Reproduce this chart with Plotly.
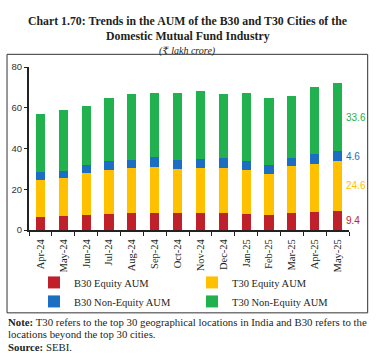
import plotly.graph_objects as go

months = ["Apr-24", "May-24", "Jun-24", "Jul-24", "Aug-24", "Sep-24", "Oct-24",
          "Nov-24", "Dec-24", "Jan-25", "Feb-25", "Mar-25", "Apr-25", "May-25"]
b30_equity = [6.4, 6.9, 7.5, 8.0, 8.2, 8.5, 8.2, 8.3, 8.3, 8.0, 7.5, 8.3, 9.0, 9.4]
t30_equity = [18.1, 18.6, 20.3, 21.4, 22.0, 22.5, 21.7, 21.9, 22.2, 21.4, 19.9, 22.9, 23.3, 24.6]
b30_non_equity = [4.1, 3.7, 4.0, 4.4, 4.2, 4.6, 4.4, 4.6, 4.6, 4.6, 4.4, 4.2, 4.8, 4.6]
t30_non_equity = [28.5, 29.7, 29.3, 31.2, 32.4, 31.7, 33.0, 33.3, 31.8, 33.3, 32.9, 30.4, 32.9, 33.6]
y_ticks = [0, 20, 40, 60, 80]

series = [
    ("B30 Equity AUM", b30_equity, "#C0202A"),
    ("T30 Equity AUM", t30_equity, "#FFC000"),
    ("B30 Non-Equity AUM", b30_non_equity, "#1B6EC2"),
    ("T30 Non-Equity AUM", t30_non_equity, "#21B24F"),
]

W, H = 376, 357
L, R, T, B = 29, 349.3, 66.7, 230.0  # plot area in px


def px_x(x):
    return (x - L) / (R - L)


def px_y(y):
    return (B - y) / (B - T)


SERIF = "Liberation Serif, DejaVu Serif, serif"
SANS = "Liberation Sans, Arial, sans-serif"
TXT = "#231f20"

fig = go.Figure()
for name, vals, col in series:
    fig.add_trace(go.Bar(x=months, y=vals, name=name, marker_color=col,
                         marker_line_width=0))

# value labels at the last bar (segment midpoints)
cum = 0
for name, vals, col in series:
    v = vals[-1]
    fig.add_annotation(x=months[-1], y=cum + v / 2, xref="x", yref="y",
                       text=f"{v:.1f}", showarrow=False, xanchor="left",
                       xshift=6, font=dict(family=SANS, size=10, color=col))
    cum += v

# titles
fig.add_annotation(x=px_x(188), y=px_y(12), xref="paper", yref="paper",
                   text="<b>Chart 1.70: Trends in the AUM of the B30 and T30 Cities of the</b>",
                   showarrow=False, font=dict(family=SERIF, size=11.8, color=TXT))
fig.add_annotation(x=px_x(188), y=px_y(27), xref="paper", yref="paper",
                   text="<b>Domestic Mutual Fund Industry</b>",
                   showarrow=False, font=dict(family=SERIF, size=11.8, color=TXT))
fig.add_annotation(x=px_x(188), y=px_y(43), xref="paper", yref="paper",
                   text="<i>(₹ lakh crore)</i>",
                   showarrow=False, font=dict(family=SERIF, size=10, color=TXT))

# notes
notes = [
    (322, "<b>Note:</b> T30 refers to the top 30 geographical locations in India and B30 refers to the"),
    (334, "locations beyond the top 30 cities."),
    (347, "<b>Source:</b> SEBI."),
]
for yy, t in notes:
    fig.add_annotation(x=px_x(6), y=px_y(yy), xref="paper", yref="paper",
                       text=t, showarrow=False, xanchor="left", yanchor="middle",
                       font=dict(family=SERIF, size=10.8, color=TXT))

# outer box
fig.add_shape(type="rect", xref="paper", yref="paper",
              x0=px_x(7), x1=px_x(368), y0=px_y(313), y1=px_y(54),
              line=dict(color="#333333", width=1))

fig.update_layout(
    width=W, height=H,
    margin=dict(l=L, r=W - R, t=T, b=H - B, pad=0, autoexpand=False),
    paper_bgcolor="white", plot_bgcolor="white",
    barmode="stack", bargap=0.6,
    showlegend=True,
    legend=dict(orientation="h", x=px_x(34), y=px_y(268), xanchor="left",
                yanchor="top", traceorder="normal", entrywidth=113,
                font=dict(family=SERIF, size=10.5, color=TXT),
                itemwidth=30, tracegroupgap=0, bgcolor="rgba(0,0,0,0)"),
    xaxis=dict(type="category", range=[-0.5, 13.5], showline=True,
               linecolor="#222", linewidth=2, ticks="outside",
               tickson="boundaries", ticklen=4, tickwidth=1.2, tickcolor="#222",
               tickangle=-90, tickfont=dict(family=SERIF, size=10.5, color=TXT),
               ticklabelstandoff=3,
               showgrid=False, fixedrange=True),
    yaxis=dict(range=[0, 80], tickvals=y_ticks, showline=True,
               linecolor="#222", linewidth=2, ticks="outside", ticklen=3,
               tickwidth=1, tickcolor="#222", showgrid=False, zeroline=False,
               tickfont=dict(family=SANS, size=9.5, color="#333")),
)

fig.write_html("out.html", config={"displayModeBar": False},
               post_script="document.body.style.margin='0';")
